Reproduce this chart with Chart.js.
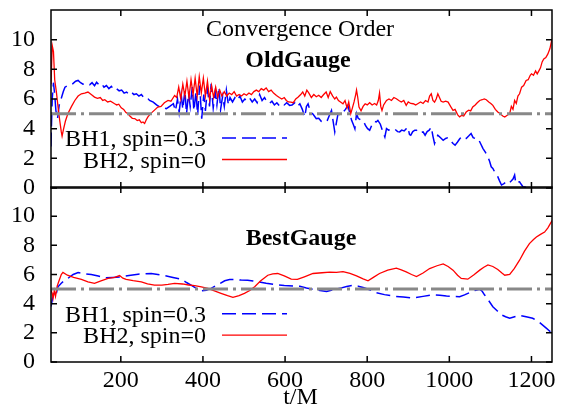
<!DOCTYPE html>
<html>
<head>
<meta charset="utf-8">
<script src="https://cdn.jsdelivr.net/npm/chart.js@4.4.0/dist/chart.umd.min.js"></script>
<style>
  html, body { margin: 0; padding: 0; background: #fff; }
  #wrap { position: relative; width: 569px; height: 409px; }
  canvas { position: absolute; left: 0; }
  #top { top: 0; }
  #bottom { top: 186px; }
</style>
</head>
<body>
<div id="wrap">
  <canvas id="top" width="569" height="200"></canvas>
  <canvas id="bottom" width="569" height="223"></canvas>
</div>
<script>
// axis setup
const xRange = [30, 1250];
const yRange = [0, 12];
const xTicks = [200, 400, 600, 800, 1000, 1200];
const yTicks = [0, 2, 4, 6, 8, 10];
const refLevel = 5;
const seriesNames = ['BH1, spin=0.3', 'BH2, spin=0'];

// OldGauge, BH1 (spin=0.3)
const oldBH1T = [30, 31, 33, 36, 39, 42, 46, 50, 56, 60, 64, 70, 76, 82, 90, 96, 102, 108, 117, 124,
  130, 136, 141, 147, 153, 159, 165, 171, 177, 184, 190, 196, 202, 208, 214, 220, 226, 232, 238, 244,
  250, 256, 263, 270, 279, 287, 295, 303, 311, 319, 328, 333, 338, 342, 347, 351, 356, 360, 365, 369,
  374, 378, 383, 387, 392, 397, 402, 406, 411, 416, 420, 425, 430, 434, 439, 443, 448, 452, 457, 462,
  466, 472, 478, 484, 490, 496, 502, 508, 514, 520, 526, 532, 538, 544, 550, 556, 562, 568, 574, 580,
  586, 592, 598, 604, 611, 617, 624, 630, 636, 642, 648, 652, 656, 660, 664, 670, 676, 682, 688, 693,
  698, 703, 708, 713, 717, 721, 725, 729, 735, 741, 747, 753, 758, 762, 766, 770, 774, 778, 784, 790,
  796, 801, 806, 812, 817, 822, 826, 832, 838, 843, 847, 852, 858, 863, 868, 874, 879, 884, 890, 895,
  899, 903, 906, 911, 916, 920, 926, 931, 936, 941, 946, 951, 956, 960, 964, 968, 972, 978, 985, 991,
  997, 1003, 1009, 1014, 1020, 1025, 1029, 1035, 1041, 1047, 1053, 1058, 1063, 1070, 1076, 1082, 1088, 1094, 1098, 1102,
  1106, 1112, 1118, 1122, 1127, 1133, 1139, 1144, 1150, 1155, 1159, 1162, 1167, 1171, 1175, 1179, 1185, 1190];
const oldBH1 = [2.8, 4.1, 6.0, 7.1, 6.3, 5.2, 4.7, 5.6, 6.13, 6.5, 6.8, 6.9, 6.91, 7.0, 7.2, 7.25, 7.1, 7.0, 7.03, 6.95,
  7.1, 6.9, 7.13, 6.95, 7.05, 6.8, 6.91, 6.7, 6.85, 6.6, 6.69, 6.55, 6.6, 6.4, 6.47, 6.3, 6.45, 6.3, 6.35, 6.2,
  6.3, 6.1, 6.13, 5.9, 5.79, 5.6, 5.46, 5.4, 5.35, 5.5, 5.68, 5.2, 6.0, 5.1, 6.3, 5.3, 6.6, 5.0, 6.4, 5.5,
  6.8, 5.2, 6.5, 4.9, 6.9, 4.68, 6.3, 5.2, 6.7, 5.5, 7.03, 5.4, 6.5, 5.6, 6.8, 5.3, 6.2, 5.5, 6.6, 5.6,
  6.1, 5.8, 6.1, 5.9, 6.2, 5.8, 6.0, 5.85, 6.05, 5.8, 6.0, 5.75, 6.3, 5.9, 6.1, 5.8, 5.7, 5.85, 5.6, 5.75,
  5.55, 5.7, 5.6, 5.75, 5.57, 5.6, 5.75, 5.5, 5.68, 5.3, 4.79, 5.5, 5.68, 5.3, 5.12, 4.9, 4.68, 4.7, 4.5, 4.45,
  4.6, 4.56, 4.9, 5.23, 4.5, 3.78, 4.4, 5.01, 4.9, 5.1, 5.3, 5.57, 5.0, 4.56, 4.3, 4.0, 5.01, 4.7, 4.6, 4.56,
  4.2, 4.0, 3.89, 4.3, 4.5, 4.45, 4.56, 4.3, 3.8, 3.44, 4.0, 3.9, 3.95, 3.89, 3.95, 3.8, 3.78, 3.9, 3.85, 4.0,
  4.11, 3.6, 3.56, 3.8, 3.9, 3.89, 3.7, 3.75, 3.78, 3.56, 3.8, 3.9, 4.11, 3.5, 3.0, 3.3, 3.56, 3.4, 3.22, 3.34,
  3.4, 3.2, 3.0, 2.89, 3.1, 3.3, 3.44, 3.3, 3.34, 3.5, 3.67, 3.4, 3.34, 3.34, 3.0, 2.66, 2.4, 2.1, 1.8, 1.43,
  1.32, 1.0, 0.76, 0.5, 0.2, 0.3, 0.42, 0.31, 0.45, 0.6, 0.87, 0.31, 0.4, 0.42, 0.25, 0.09, 0.05, -0.3];

// OldGauge, BH2 (spin=0)
const oldBH2T = [30, 33, 36, 39, 43, 47, 51, 55, 57, 60, 65, 71, 80, 88, 96, 104, 112, 120, 128, 136,
  143, 150, 156, 161, 168, 175, 185, 190, 195, 201, 207, 212, 217, 222, 228, 234, 240, 245, 250, 254,
  258, 262, 266, 272, 280, 290, 298, 306, 315, 322, 331, 336, 341, 346, 351, 356, 361, 366, 371, 376,
  381, 386, 391, 396, 401, 406, 411, 416, 421, 426, 431, 436, 441, 446, 452, 458, 464, 470, 476, 482,
  488, 494, 500, 506, 512, 518, 524, 530, 536, 542, 548, 554, 560, 566, 572, 579, 586, 592, 598, 603,
  608, 614, 620, 626, 632, 638, 643, 648, 653, 658, 664, 670, 676, 682, 688, 694, 700, 705, 710, 716,
  721, 725, 730, 735, 741, 746, 751, 755, 760, 764, 768, 772, 774, 777, 780, 785, 790, 795, 800, 806,
  812, 818, 823, 827, 830, 833, 836, 840, 847, 853, 859, 865, 871, 877, 883, 889, 895, 900, 906, 912,
  918, 924, 930, 936, 942, 948, 952, 956, 960, 964, 968, 972, 976, 980, 985, 991, 997, 1003, 1009, 1014,
  1020, 1025, 1030, 1035, 1041, 1047, 1052, 1057, 1063, 1068, 1074, 1080, 1085, 1090, 1096, 1101, 1106, 1112, 1118, 1124,
  1130, 1135, 1141, 1147, 1151, 1155, 1159, 1163, 1167, 1171, 1176, 1181, 1187, 1192, 1197, 1200, 1205, 1210, 1214, 1218,
  1222, 1226, 1230, 1235, 1240, 1245, 1250];
const oldBH2 = [7.0, 9.6, 9.2, 7.3, 6.5, 5.5, 4.6, 3.8, 3.5, 3.9, 4.5, 5.0, 5.5, 5.9, 6.2, 6.35, 6.4, 6.47, 6.3, 6.13,
  6.05, 6.1, 5.9, 5.95, 5.8, 5.85, 5.68, 5.6, 5.65, 5.41, 5.3, 5.1, 5.01, 4.85, 4.7, 4.68, 4.55, 4.6, 4.4, 4.45,
  4.35, 4.6, 4.79, 5.0, 5.2, 5.46, 5.5, 5.75, 5.9, 5.85, 6.24, 6.1, 6.8, 6.0, 7.0, 6.2, 7.2, 6.1, 7.3, 6.3,
  7.4, 6.2, 7.5, 6.4, 7.4, 6.2, 7.2, 6.0, 6.9, 6.1, 6.8, 6.1, 6.6, 6.2, 6.5, 6.2, 6.4, 6.3, 6.5, 6.2,
  6.3, 6.2, 6.35, 6.25, 6.4, 6.3, 6.5, 6.6, 6.5, 6.7, 6.6, 6.75, 6.5, 6.6, 6.4, 6.24, 6.1, 6.0, 6.1, 5.9,
  5.8, 5.79, 5.75, 6.0, 6.13, 6.3, 6.47, 6.2, 6.6, 6.4, 6.1, 6.3, 6.15, 6.25, 6.1, 6.3, 6.47, 6.1, 6.5, 6.2,
  6.0, 6.13, 5.9, 5.8, 5.68, 5.9, 5.4, 5.8, 5.01, 5.4, 5.8, 6.3, 6.6, 6.1, 5.46, 5.2, 5.5, 5.68, 5.6, 5.75,
  5.6, 5.7, 5.6, 5.9, 6.4, 5.5, 5.23, 5.6, 5.9, 6.0, 5.9, 6.1, 6.02, 5.9, 5.8, 5.9, 5.57, 5.8, 5.7, 5.68,
  5.6, 5.7, 5.8, 5.7, 5.9, 5.8, 6.2, 6.35, 5.9, 5.79, 6.0, 6.35, 6.1, 5.85, 5.79, 5.85, 5.79, 5.5, 5.23, 5.3,
  4.95, 4.79, 4.9, 4.85, 5.12, 5.25, 5.2, 5.46, 5.6, 5.75, 5.9, 5.95, 6.0, 5.95, 5.8, 5.7, 5.57, 5.3, 5.12, 5.0,
  4.85, 4.79, 4.9, 5.01, 5.5, 5.3, 5.9, 5.7, 6.2, 6.35, 6.8, 6.9, 7.25, 7.3, 7.6, 7.7, 7.6, 7.9, 7.7, 7.9,
  8.1, 8.5, 8.7, 8.8, 9.04, 9.4, 10.05];

// BestGauge, BH1 (spin=0.3)
const bestBH1T = [30, 34, 38, 42, 47, 55, 63, 71, 84, 96, 112, 128, 145, 161, 180, 201, 220, 242, 258, 274,
  290, 307, 327, 347, 360, 371, 384, 396, 408, 420, 436, 453, 465, 477, 493, 509, 522, 534, 554, 574,
  598, 623, 636, 652, 668, 685, 701, 717, 733, 750, 765, 778, 790, 806, 822, 842, 863, 888, 912, 936,
  960, 977, 993, 1010, 1025, 1037, 1049, 1062, 1074, 1080, 1086, 1096, 1106, 1117, 1127, 1137, 1147, 1159, 1171, 1187,
  1203, 1220, 1236, 1244, 1250];
const bestBH1 = [3.8, 4.4, 4.8, 4.6, 5.16, 5.4, 5.6, 5.73, 6.0, 6.14, 6.05, 6.0, 5.9, 5.77, 5.8, 5.84, 5.93, 6.02, 6.05, 6.07,
  6.0, 5.93, 5.8, 5.68, 5.45, 5.27, 5.05, 4.89, 4.92, 5.05, 5.3, 5.57, 5.65, 5.66, 5.62, 5.61, 5.56, 5.5, 5.4, 5.32,
  5.25, 5.2, 5.2, 5.08, 4.98, 4.9, 4.84, 4.95, 5.05, 5.18, 5.25, 5.2, 5.11, 4.95, 4.75, 4.62, 4.52, 4.45, 4.39, 4.5,
  4.61, 4.57, 4.52, 4.5, 4.48, 4.6, 4.75, 4.9, 4.98, 4.85, 4.59, 4.2, 3.79, 3.5, 3.23, 3.1, 3.0, 3.1, 3.2, 3.1,
  3.0, 2.7, 2.32, 2.13, 1.95];

// BestGauge, BH2 (spin=0)
const bestBH2T = [30, 33, 35, 38, 41, 45, 50, 55, 59, 70, 85, 104, 120, 136, 150, 169, 185, 197, 205, 213,
  230, 250, 265, 282, 300, 315, 331, 350, 365, 380, 396, 412, 428, 444, 460, 473, 488, 501, 514, 526,
  540, 558, 570, 582, 598, 615, 630, 647, 668, 690, 709, 725, 741, 758, 774, 790, 802, 815, 830, 850,
  871, 883, 895, 908, 920, 936, 952, 970, 985, 997, 1009, 1020, 1029, 1045, 1060, 1074, 1084, 1094, 1106, 1118,
  1128, 1135, 1147, 1158, 1171, 1183, 1195, 1205, 1212, 1222, 1232, 1240, 1248, 1250];
const bestBH2 = [4.93, 4.7, 4.37, 4.9, 4.5, 5.2, 5.6, 6.0, 6.14, 5.95, 5.8, 5.66, 5.5, 5.39, 5.55, 5.73, 5.8, 5.93, 5.75, 5.66,
  5.58, 5.5, 5.35, 5.27, 5.27, 5.32, 5.39, 5.35, 5.28, 5.23, 5.15, 5.05, 4.88, 4.71, 4.55, 4.43, 4.55, 4.71, 4.9, 5.16,
  5.55, 5.95, 6.05, 6.07, 5.9, 5.68, 5.66, 5.84, 6.07, 6.12, 6.16, 6.15, 6.2, 6.08, 5.91, 5.7, 5.57, 5.8, 6.07, 6.3,
  6.43, 6.32, 6.18, 6.0, 5.86, 6.1, 6.41, 6.6, 6.73, 6.55, 6.3, 5.95, 5.73, 5.68, 5.98, 6.3, 6.5, 6.66, 6.55, 6.34,
  6.1, 5.95, 6.0, 6.4, 6.98, 7.6, 8.12, 8.4, 8.57, 8.75, 8.91, 9.2, 9.59, 9.7];

const RED = '#ff0000';
const BLUE = '#0000ff';
const GRAY = '#888888';
const SERIF = "'Liberation Serif', 'Times New Roman', serif";

Chart.defaults.font.family = SERIF;
Chart.defaults.font.size = 24;
Chart.defaults.color = '#000';

function pts(ts, vs) {
  return ts.map((t, i) => ({ x: t, y: vs[i] }));
}

function makeDatasets(bh1T, bh1, bh2T, bh2) {
  return [
    {
      label: 'ref',
      data: [{ x: xRange[0], y: refLevel }, { x: xRange[1], y: refLevel }],
      borderColor: GRAY, borderWidth: 3, borderDash: [25, 5, 3, 5]
    },
    {
      label: seriesNames[1],
      data: pts(bh2T, bh2),
      borderColor: RED, borderWidth: 1.3
    },
    {
      label: seriesNames[0],
      data: pts(bh1T, bh1),
      borderColor: BLUE, borderWidth: 1.5, borderDash: [14, 6]
    }
  ];
}

// gnuplot-like frame, inside ticks, key and labels
function decorPlugin(cfg) {
  return {
    id: 'decor',
    afterDraw(chart) {
      const { ctx, chartArea: a } = chart;
      const x = chart.scales.x, y = chart.scales.y;
      ctx.save();
      ctx.strokeStyle = '#000';
      ctx.lineWidth = 1.5;
      ctx.setLineDash([]);
      ctx.strokeRect(a.left, a.top, a.right - a.left, a.bottom - a.top);
      ctx.beginPath();
      xTicks.forEach(v => {
        const px = x.getPixelForValue(v);
        ctx.moveTo(px, a.top); ctx.lineTo(px, a.top + 6);
        ctx.moveTo(px, a.bottom); ctx.lineTo(px, a.bottom - 6);
      });
      yTicks.forEach(v => {
        const py = y.getPixelForValue(v);
        ctx.moveTo(a.left, py); ctx.lineTo(a.left + 6, py);
        ctx.moveTo(a.right, py); ctx.lineTo(a.right - 6, py);
      });
      ctx.stroke();

      // key
      ctx.font = '24px ' + SERIF;
      ctx.fillStyle = '#000';
      ctx.textAlign = 'right';
      ctx.textBaseline = 'alphabetic';
      const keys = [
        { text: seriesNames[0], color: BLUE, dash: [14, 6], w: 1.5 },
        { text: seriesNames[1], color: RED, dash: [], w: 1.3 }
      ];
      keys.forEach((k, i) => {
        const base = cfg.keyY + i * 21.5;
        ctx.fillText(k.text, 206, base);
        ctx.beginPath();
        ctx.strokeStyle = k.color;
        ctx.lineWidth = k.w;
        ctx.setLineDash(k.dash);
        ctx.moveTo(222, base - 8);
        ctx.lineTo(287, base - 8);
        ctx.stroke();
      });
      ctx.setLineDash([]);

      // labels
      ctx.textAlign = 'center';
      cfg.labels.forEach(l => {
        ctx.font = (l.bold ? 'bold ' : '') + '24px ' + SERIF;
        ctx.fillText(l.text, l.x, l.y);
      });
      ctx.restore();
    }
  };
}

function makeChart(id, datasets, showX, padding, cfg) {
  return new Chart(document.getElementById(id), {
    type: 'line',
    data: { datasets: datasets },
    options: {
      responsive: false,
      animation: false,
      devicePixelRatio: 1,
      layout: { padding: padding, autoPadding: false },
      elements: { point: { radius: 0 }, line: { tension: 0 } },
      plugins: { legend: { display: false }, tooltip: { enabled: false } },
      scales: {
        x: {
          type: 'linear', min: xRange[0], max: xRange[1],
          display: showX,
          grid: { display: false, drawTicks: false },
          border: { display: false },
          ticks: { padding: 4, maxRotation: 0, autoSkip: false, callback: v => String(v) },
          afterBuildTicks: s => { s.ticks = xTicks.map(v => ({ value: v })); },
          afterFit: s => {
            s.height = showX ? 47 : 0;
            s.paddingLeft = 0; s.paddingRight = 0;
          }
        },
        y: {
          type: 'linear', min: yRange[0], max: yRange[1],
          grid: { display: false, drawTicks: false },
          border: { display: false },
          ticks: { padding: 16, autoSkip: false, callback: v => String(v) },
          afterBuildTicks: s => { s.ticks = yTicks.map(v => ({ value: v })); },
          afterFit: s => { s.width = 51; s.paddingTop = 0; s.paddingBottom = 0; }
        }
      }
    },
    plugins: [decorPlugin(cfg)]
  });
}

makeChart('top', makeDatasets(oldBH1T, oldBH1, oldBH2T, oldBH2), false,
  { top: 10, right: 17, bottom: 12, left: 0 },
  {
    keyY: 146,
    labels: [
      { text: 'Convergence Order', x: 300, y: 36, bold: false },
      { text: 'OldGauge', x: 298, y: 67, bold: true }
    ]
  });

makeChart('bottom', makeDatasets(bestBH1T, bestBH1, bestBH2T, bestBH2), true,
  { top: 1, right: 17, bottom: 0, left: 0 },
  {
    keyY: 135.7,
    labels: [
      { text: 'BestGauge', x: 301, y: 59, bold: true },
      { text: 't/M', x: 300.5, y: 218, bold: false }
    ]
  });
</script>
</body>
</html>
